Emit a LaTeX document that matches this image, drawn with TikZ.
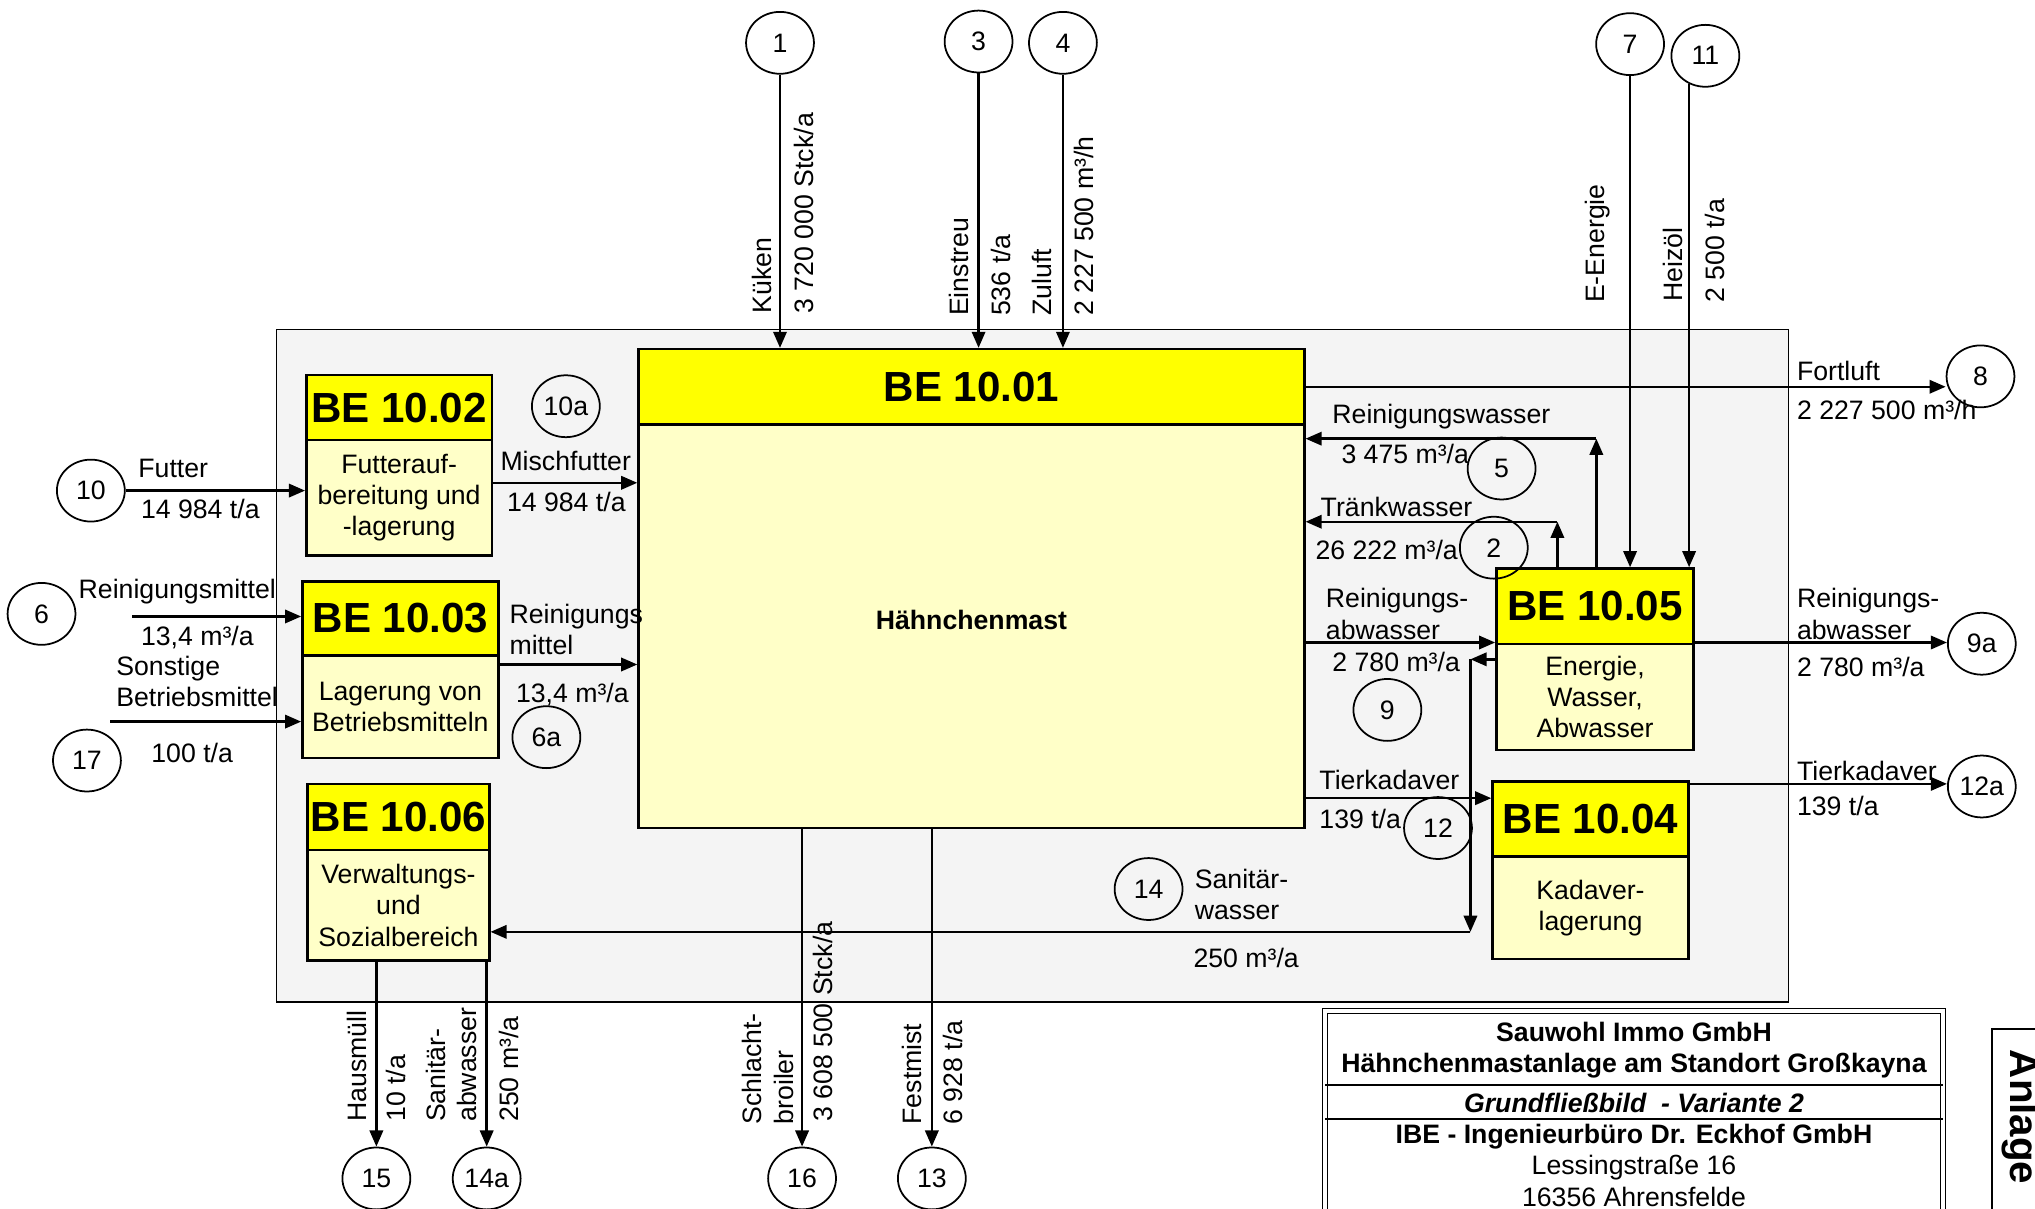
\documentclass[tikz,border=0pt]{standalone}
\usepackage{fontspec}
\setmainfont{Liberation Sans}
\usepackage{tikz}
\usetikzlibrary{positioning, arrows.meta, calc, fit, shapes.geometric}
\definecolor{beyel}{HTML}{FFFF00}
\definecolor{belight}{HTML}{FFFFC8}
\definecolor{sitegray}{HTML}{F4F4F4}

\begin{document}
\begin{tikzpicture}[x=0.013cm,y=-0.013cm,font=\fontsize{7.6}{8.9}\selectfont,>={Triangle[length=4.6pt,width=3.8pt]},line width=0.7pt,
  hd/.style={draw,fill=beyel,inner sep=0pt},
  bd/.style={draw,fill=belight,inner sep=0pt},
  hdt/.style={inner sep=0pt,font=\fontsize{12}{14}\selectfont\bfseries},
  bdt/.style={inner sep=0pt,align=center},
  num/.style={draw,ellipse,line width=0.5pt,minimum width=0.68cm,minimum height=0.62cm,inner sep=0pt},
  lab/.style={anchor=west,inner sep=1pt,align=left},
  vl/.style={rotate=90,inner sep=1pt,align=left},
  tb/.style={inner sep=0pt,font=\fontsize{7.6}{8.9}\selectfont\bfseries}]
  \useasboundingbox (0,0) rectangle (1568,931);
  % Anlagenbereich
  \node[fit={(213,254) (1378,772)},draw,fill=sitegray,line width=0.45pt,inner sep=0pt](site){};
  % Betriebseinheiten
  \node[hd,fit={(492,269) (1005,327)}](h01){};\node[bd,fit={(492,327) (1005,638)}](b01){};
  \node[hd,fit={(236,289) (379,339)}](h02){};\node[bd,fit={(236,339) (379,428)}](b02){};
  \node[hd,fit={(233,448) (384,505)}](h03){};\node[bd,fit={(233,505) (384,584)}](b03){};
  \node[hd,fit={(237,604) (377,655)}](h06){};\node[bd,fit={(237,655) (377,740)}](b06){};
  \node[hd,fit={(1153,438) (1305,496)}](h05){};\node[bd,fit={(1153,496) (1305,578)}](b05){};
  \node[hd,fit={(1150,602) (1301,660)}](h04){};\node[bd,fit={(1150,660) (1301,739)}](b04){};
  \node[hdt] at (h01){BE 10.01};\node[bdt,font=\fontsize{7.6}{8.9}\selectfont\bfseries] at ([yshift=0.06cm]b01.center){Hähnchenmast};
  \node[hdt] at (h02){BE 10.02};\node[bdt] at (b02){Futterauf-\\bereitung und\\-lagerung};
  \node[hdt] at (h03){BE 10.03};\node[bdt] at (b03){Lagerung von\\Betriebsmitteln};
  \node[hdt] at (h06){BE 10.06};\node[bdt] at (b06){Verwaltungs-\\und\\Sozialbereich};
  \node[hdt] at (h05){BE 10.05};\node[bdt] at (b05){Energie,\\Wasser,\\Abwasser};
  \node[hdt] at (h04){BE 10.04};\node[bdt] at (b04){Kadaver-\\lagerung};
  % Stoffstrom-Nummern
  \node[num](n1) at (601,33){1};\node[num](n3) at (754,32){3};\node[num](n4) at (819,33){4};
  \node[num](n7) at (1256,34){7};\node[num](n11) at (1314,43){11};\node[num](n8) at (1526,290){8};
  \node[num](n10a) at (436,313){10a};\node[num](n10) at (70,378){10};\node[num](n6) at (32,473){6};
  \node[num](n17) at (67,586){17};\node[num](n6a) at (421,568){6a};\node[num](n5) at (1157,361){5};
  \node[num](n2) at (1151,422){2};\node[num](n9) at (1069,547){9};\node[num](n9a) at (1527,496){9a};
  \node[num](n12) at (1108,638){12};\node[num](n12a) at (1527,606){12a};\node[num](n14) at (885,685){14};
  \node[num](n15) at (290,908){15};\node[num](n14a) at (375,908){14a};\node[num](n16) at (618,908){16};
  \node[num](n13) at (718,908){13};
  % Hilfspunkte
  \coordinate (r6) at (102,475);\coordinate (r17) at (85,556);\coordinate (mf) at (0,372);\coordinate (rm) at (0,512);
  \coordinate (rw) at (1230,338);\coordinate (tw) at (1200,402);\coordinate (sw) at (1133,508);\coordinate (sd) at (1133,718);
  \coordinate (tk) at (0,615);\coordinate (tko) at (0,604);
  % Zufuhr oben
  \draw[->](n1.south)--(n1.south|-h01.north);\draw[->](n3.south)--(n3.south|-h01.north);\draw[->](n4.south)--(n4.south|-h01.north);
  \draw[->](n7.south)--(n7.south|-h05.north);\draw[->](n11.-120)--(n11.-120|-h05.north);
  \node[vl,anchor=south west](kue) at (598,245){Küken};\node[vl,anchor=north west](kuem) at (608,245){3 720 000 Stck/a};
  \node[vl,anchor=south west](ein) at (750,247){Einstreu};\node[vl,anchor=north west](einm) at (760,247){536 t/a};
  \node[vl,anchor=south west](zul) at (814,247){Zuluft};\node[vl,anchor=north west](zulm) at (824,247){2 227 500 m³/h};
  \node[vl,anchor=south west](een) at (1244,237){E-Energie};
  \node[vl,anchor=south west](hei) at (1300,236){Heizöl};\node[vl,anchor=north west](heim) at (1310,237){2 500 t/a};
  % links
  \draw[->](n10.east)--(n10.east-|b02.west);\draw[->](r6)--(r6-|h03.west);\draw[->](r17)--(r17-|b03.west);
  \draw[->](b02.east|-mf)--(b01.west|-mf);\draw[->](b03.east|-rm)--(b01.west|-rm);
  \node[lab](fut) at (103,361){Futter};\node[lab](futm) at (105,392){14 984 t/a};
  \node[lab](mis) at (382,355){Mischfutter};\node[lab](mism) at (387,387){14 984 t/a};
  \node[lab](rei) at (57,456){Reinigungsmittel};\node[lab](reim) at (105,491){13,4 m³/a};
  \node[lab](son) at (86,525){Sonstige\\Betriebsmittel};\node[lab](sonm) at (113,580){100 t/a};
  \node[lab](rei2) at (389,485){Reinigungs\\mittel};\node[lab](rei2m) at (394,535){13,4 m³/a};
  % rechts
  \draw[->](h01.east)--(h01.east-|n8.west);
  \draw[->](h05.north-|rw)--(rw);\draw[->](rw)--(rw-|b01.east);
  \draw[->](h05.north-|tw)--(tw);\draw[->](tw)--(tw-|b01.east);
  \draw[->](b01.east|-b05.north west)--(b05.north west);\draw[->](b05.north east)--(b05.north east-|n9a.west);
  \draw[->](b05.west|-sw)--(sw);\draw[->](sw)--(sd);\draw[->](sd)--(sd-|b06.east);
  \draw[->](b01.east|-tk)--(h04.west|-tk);\draw[->](h04.east|-tko)--(n12a.west|-tko);
  \node[lab](for) at (1381,286){Fortluft};\node[lab](form) at (1381,316){2 227 500 m³/h};
  \node[lab](rw1) at (1023,321){Reinigungswasser};\node[lab](rw1m) at (1030,350){3 475 m³/a};
  \node[lab](tra) at (1014,391){Tränkwasser};\node[lab](tram) at (1010,424){26 222 m³/a};
  \node[lab](abw) at (1018,473){Reinigungs-\\abwasser};\node[lab](abwm) at (1023,510){2 780 m³/a};
  \node[lab](abw2) at (1381,473){Reinigungs-\\abwasser};\node[lab](abw2m) at (1381,514){2 780 m³/a};
  \node[lab](tie) at (1013,601){Tierkadaver};\node[lab](tiem) at (1013,631){139 t/a};
  \node[lab](tie2) at (1381,594){Tierkadaver};\node[lab](tie2m) at (1381,621){139 t/a};
  \node[lab](san) at (917,689){Sanitär-\\wasser};\node[lab](sanm) at (916,738){250 m³/a};
  % Abgabe unten
  \draw[->](b06.south-|n15)--(n15.north);\draw[->](b06.south east-|n14a)--(n14a.north);
  \draw[->](b01.south-|n16)--(n16.north);\draw[->](b01.south-|n13)--(n13.north);
  \node[vl,anchor=south west](hau) at (286,868){Hausmüll};\node[vl,anchor=north west](haum) at (294,868){10 t/a};
  \node[vl,anchor=south west](saa) at (371,868){Sanitär-\\abwasser};\node[vl,anchor=north west](saam) at (381,868){250 m³/a};
  \node[vl,anchor=south west](sch) at (615,870){Schlacht-\\broiler};\node[vl,anchor=north west](schm) at (623,868){3 608 500 Stck/a};
  \node[vl,anchor=south west](fes) at (714,870){Festmist};\node[vl,anchor=north west](fesm) at (723,870){6 928 t/a};
  % Schriftfeld
  \draw[double,double distance=1pt,line width=0.4pt](1021,779) rectangle (1497,950);
  \draw[line width=0.6pt](1021,836)--(1497,836);\draw[line width=0.5pt](1021,862)--(1497,862);
  \node[tb](t1) at (1259,795){Sauwohl Immo GmbH};
  \node[tb](t2) at (1259,821){Hähnchenmastanlage am Standort Großkayna};
  \node[tb,font=\fontsize{7.6}{8.9}\selectfont\bfseries\itshape](t3) at (1259,850){Grundfließbild~~- Variante 2};
  \node[tb](t4) at (1259,876){IBE - Ingenieurbüro Dr. Eckhof GmbH};
  \node[inner sep=0pt](t5) at (1259,900){Lessingstraße 16};
  \node[inner sep=0pt](t6) at (1259,922){16356 Ahrensfelde};
  \draw[line width=0.5pt](1535,950)--(1535,793)--(1580,793);
  \node[rotate=-90,anchor=west,inner sep=0pt,font=\fontsize{11.5}{13}\selectfont\bfseries](anl) at (1557,808){Anlage};
\end{tikzpicture}
\end{document}
